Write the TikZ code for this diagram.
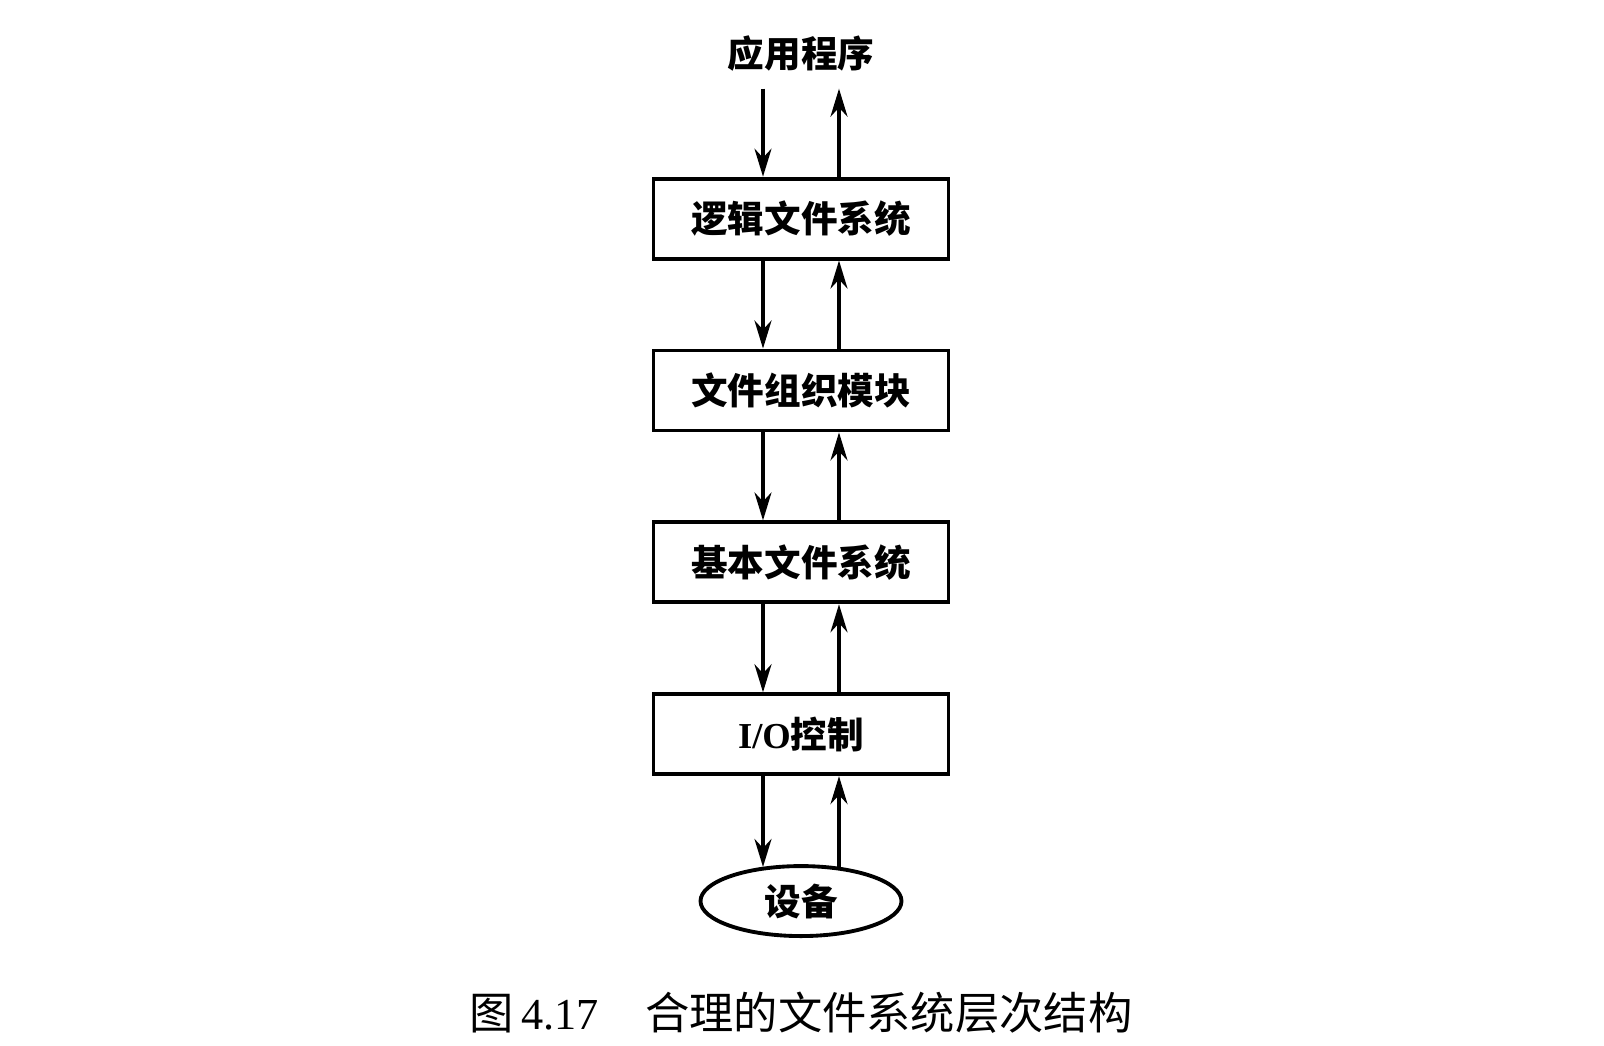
\documentclass[tikz,border=0pt]{standalone}
\usepackage{fontspec}
\setmainfont{Liberation Serif}
\newfontfamily\cjk{Noto Sans CJK SC}
\usetikzlibrary{positioning,arrows.meta,shapes.geometric}

\tikzset{
  layer/.style={draw, line width=1.1pt, minimum width=2.95cm, minimum height=0.80cm,
    inner sep=0pt, font=\fontsize{10.4pt}{12pt}\cjk\bfseries},
  io/.style={->, line width=1.0pt}
}

\begin{document}
\begin{tikzpicture}[>={Stealth[length=2.8mm,width=1.7mm]}, node distance=8.8mm]
  \useasboundingbox (0,0) rectangle (16.04,10.46);
  % application on top
  \node[minimum height=0.68cm, inner sep=0pt, font=\fontsize{10.4pt}{12pt}\cjk\bfseries]
    (app) at (8.01,9.92) {应用程序};
  % the layers
  \node[layer, below=of app] (lfs) {逻辑文件系统};
  \node[layer, below=of lfs] (fom) {文件组织模块};
  \node[layer, below=of fom] (bfs) {基本文件系统};
  \node[layer, below=of bfs] (ioc) {{\rmfamily I/O}控制};
  % device
  \node[ellipse, draw, line width=1.1pt, minimum width=2.01cm, minimum height=0.70cm,
    inner sep=0pt, below=of ioc, font=\fontsize{10.4pt}{12pt}\cjk\bfseries] (dev) {设备};
  % requests down, results up
  \foreach \a/\b in {app/lfs, lfs/fom, fom/bfs, bfs/ioc} {
    \draw[io] ([xshift=-3.8mm]\a.south) -- ([xshift=-3.8mm]\b.north);
    \draw[io] ([xshift=3.8mm]\b.north) -- ([xshift=3.8mm]\a.south);
  }
  \draw[io] ([xshift=-3.8mm]ioc.south) -- ([xshift=-3.8mm]ioc.south |- dev.139);
  \draw[io] ([xshift=3.8mm]ioc.south |- dev.41) -- ([xshift=3.8mm]ioc.south);
  % caption
  \node[font=\fontsize{12.6pt}{14pt}\cjk] (cap) at (8.01,0.33)
    {图\,{\rmfamily 4.17}\hspace{1.05em}合理的文件系统层次结构};
\end{tikzpicture}
\end{document}
